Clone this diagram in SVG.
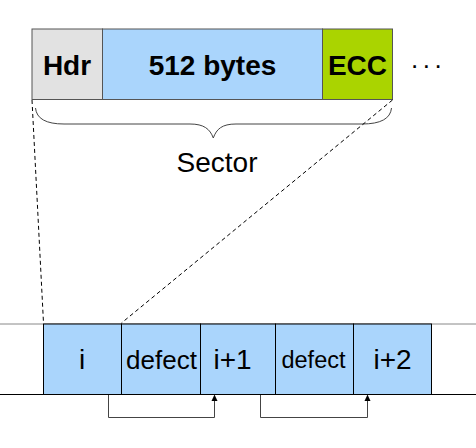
<svg xmlns="http://www.w3.org/2000/svg" width="476" height="448" viewBox="0 0 476 448">
<style>
.b{font-family:"Liberation Sans",Arial,sans-serif;font-weight:bold;font-size:28px;text-anchor:middle;fill:#000}
.t{font-family:"Liberation Sans",Arial,sans-serif;font-size:28px;text-anchor:middle;fill:#000}
.cell{fill:#aad5fc;stroke:#000;stroke-width:1}
.dash{stroke:#000;stroke-width:1;stroke-dasharray:4,3;fill:none}
.conn{stroke:#444;stroke-width:1;fill:none}
.head{fill:#000}
</style>
<g id="sector">
<rect x="32" y="29" width="70.5" height="70.5" fill="#e2e2e2" stroke="#555" stroke-width="1"/>
<rect x="102.5" y="29" width="220" height="70.5" fill="#aad5fc" stroke="#555" stroke-width="1"/>
<rect x="322.5" y="29" width="70" height="70.5" fill="#aad400" stroke="#555" stroke-width="1"/>
<text class="b" x="67" y="75">Hdr</text>
<text class="b" x="212.5" y="75">512 bytes</text>
<text class="b" x="357.5" y="75">ECC</text>
<text x="411" y="67.5" style="font-family:'Liberation Sans',Arial,sans-serif;font-size:26px;letter-spacing:4.5px">...</text>
</g>
<g id="brace">
<path class="conn" stroke="#000" d="M35.5,108 Q37,124 64,124 L190,124 C204,124 210,129 213.3,138 C216.5,129 222,124 236,124 L362,124 Q390,124 391.5,108"/>
<text class="t" x="217" y="172">Sector</text>
</g>
<g id="track">
<line x1="0" y1="324" x2="476" y2="324" stroke="#888" stroke-width="1"/>
<g id="c1"><rect class="cell" x="43.5" y="324" width="78" height="70.5"/><text class="t" x="82" y="369">i</text></g>
<g id="c2"><rect class="cell" x="121.5" y="324" width="79" height="70.5"/><text class="t" x="161.5" y="369" style="font-size:26px">defect</text></g>
<g id="c3"><rect class="cell" x="200.5" y="324" width="75" height="70.5"/><text class="t" x="232.5" y="369">i+1</text></g>
<g id="c4"><rect class="cell" x="275.5" y="324" width="78" height="70.5"/><text class="t" x="313.5" y="368" style="font-size:23.5px">defect</text></g>
<g id="c5"><rect class="cell" x="353.5" y="324" width="78" height="70.5"/><text class="t" x="392.5" y="369">i+2</text></g>
<line x1="0" y1="394.5" x2="476" y2="394.5" stroke="#000" stroke-width="1"/>
</g>
<g id="connectors">
<line class="dash" x1="32" y1="100" x2="43.5" y2="323"/>
<line class="dash" x1="392.5" y1="100" x2="121.5" y2="323"/>
<path class="conn" d="M108.5,395 V417.5 H214.5 V396"/>
<path class="head" d="M214.5,394.5 L211.5,401 L217.5,401 Z"/>
<path class="conn" d="M260.5,395 V417.5 H367.5 V396"/>
<path class="head" d="M367.5,394.5 L364.5,401 L370.5,401 Z"/>
</g>
</svg>
